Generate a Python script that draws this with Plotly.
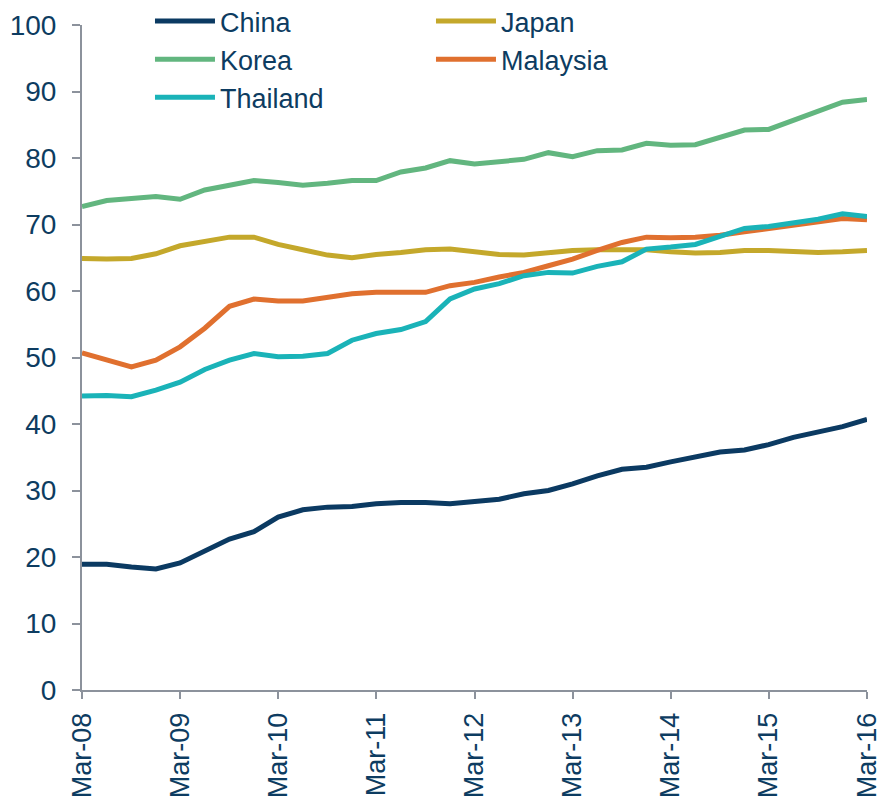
import plotly.graph_objects as go

quarters = ["2008-03-01","2008-06-01","2008-09-01","2008-12-01",
            "2009-03-01","2009-06-01","2009-09-01","2009-12-01",
            "2010-03-01","2010-06-01","2010-09-01","2010-12-01",
            "2011-03-01","2011-06-01","2011-09-01","2011-12-01",
            "2012-03-01","2012-06-01","2012-09-01","2012-12-01",
            "2013-03-01","2013-06-01","2013-09-01","2013-12-01",
            "2014-03-01","2014-06-01","2014-09-01","2014-12-01",
            "2015-03-01","2015-06-01","2015-09-01","2015-12-01",
            "2016-03-01"]

china = [18.9,18.9,18.5,18.2,19.1,20.8,22.7,23.8,26.0,27.1,27.5,27.6,28.0,28.2,28.2,28.0,
         28.3,28.7,29.5,30.0,31.0,32.2,33.2,33.5,34.3,35.1,35.8,36.1,36.9,38.0,38.8,39.6,40.7]
japan = [64.9,64.8,64.9,65.6,66.8,67.5,68.1,68.1,67.0,66.2,65.4,65.0,65.5,65.8,66.2,66.3,
         65.9,65.5,65.4,65.8,66.1,66.2,66.2,66.2,65.9,65.7,65.8,66.1,66.1,65.9,65.8,65.9,66.1]
korea = [72.7,73.6,73.9,74.2,73.8,75.2,75.9,76.6,76.3,75.9,76.2,76.6,76.6,77.9,78.5,79.6,
         79.1,79.4,79.8,80.8,80.2,81.1,81.2,82.2,81.9,82.0,83.1,84.2,84.3,85.7,87.0,88.4,88.8]
malaysia = [50.7,49.6,48.6,49.6,51.6,54.4,57.7,58.8,58.5,58.5,59.0,59.6,59.8,59.8,59.8,60.8,
            61.3,62.1,62.8,63.8,64.8,66.1,67.3,68.1,68.0,68.1,68.4,68.9,69.4,69.9,70.3,70.9,70.7]
thailand = [44.2,44.3,44.1,45.1,46.3,48.2,49.6,50.6,50.1,50.2,50.6,52.6,53.6,54.2,55.4,58.8,
            60.3,61.1,62.3,62.8,62.7,63.7,64.4,66.3,66.6,67.0,68.2,69.4,69.7,70.3,70.8,71.6,71.2]

series = [("China", china, "#0b3a62"),
          ("Japan", japan, "#c4a82b"),
          ("Korea", korea, "#62b67f"),
          ("Malaysia", malaysia, "#e0702f"),
          ("Thailand", thailand, "#1ab3b8")]

y_ticks = [0, 10, 20, 30, 40, 50, 60, 70, 80, 90, 100]
x_ticks = ["2008-03-01","2009-03-01","2010-03-01","2011-03-01","2012-03-01",
           "2013-03-01","2014-03-01","2015-03-01","2016-03-01"]

text_color = "#0d3c61"
axis_color = "#8c929c"
font_family = "Liberation Sans, Arial, sans-serif"

fig = go.Figure()
for name, vals, col in series:
    fig.add_trace(go.Scatter(x=quarters, y=vals, name=name, mode="lines",
                             line=dict(color=col, width=5)))

fig.update_layout(
    width=877, height=791, autosize=False,
    margin=dict(l=74, r=18, t=17, b=109, autoexpand=False),
    paper_bgcolor="white", plot_bgcolor="white",
    font=dict(family=font_family, color=text_color, size=28),
    showlegend=True,
    legend=dict(orientation="h", x=0.0866, y=1.042, xanchor="left", yanchor="top",
                entrywidth=206, entrywidthmode="pixels",
                font=dict(size=27, color=text_color),
                bgcolor="rgba(0,0,0,0)", itemwidth=60, tracegroupgap=0),
    xaxis=dict(type="date", range=["2008-03-01", "2016-03-01"],
               tickvals=x_ticks, tickformat="%b-%y", tickangle=-90,
               showgrid=False, zeroline=False, automargin=False,
               showline=True, linecolor=axis_color, linewidth=2,
               ticks="outside", ticklen=7, tickcolor=axis_color, tickwidth=2,
               ticklabelstandoff=3,
               tickfont=dict(size=27, color=text_color)),
    yaxis=dict(range=[0, 100], tickvals=y_ticks,
               showgrid=False, zeroline=False, automargin=False,
               showline=True, linecolor=axis_color, linewidth=2,
               ticks="outside", ticklen=8, tickcolor=axis_color, tickwidth=2,
               ticklabelstandoff=10,
               tickfont=dict(size=28, color=text_color)),
)

fig.write_html("out.html")
